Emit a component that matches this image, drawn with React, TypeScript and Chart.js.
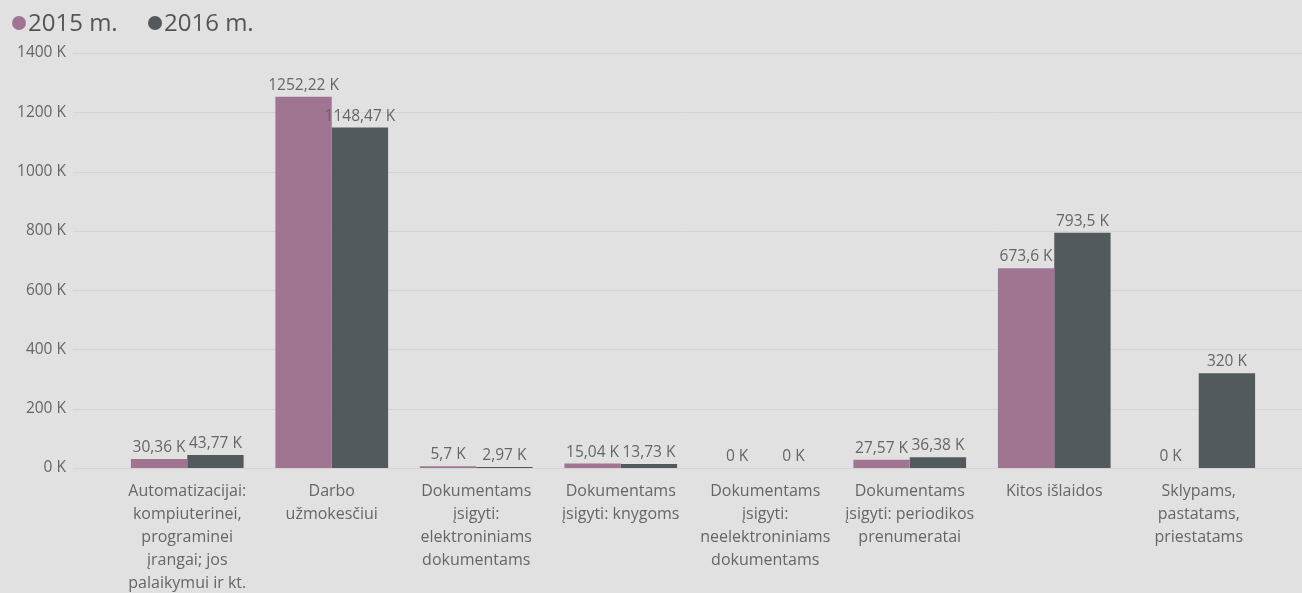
import React, { useEffect, useRef } from "react";
import { Chart, registerables } from "chart.js";

Chart.register(...registerables);

const categories: string[][] = [
  ["Automatizacijai:", "kompiuterinei,", "programinei", "įrangai; jos", "palaikymui ir kt."],
  ["Darbo", "užmokesčiui"],
  ["Dokumentams", "įsigyti:", "elektroniniams", "dokumentams"],
  ["Dokumentams", "įsigyti: knygoms"],
  ["Dokumentams", "įsigyti:", "neelektroniniams", "dokumentams"],
  ["Dokumentams", "įsigyti: periodikos", "prenumeratai"],
  ["Kitos išlaidos"],
  ["Sklypams,", "pastatams,", "priestatams"],
];
const series2015: number[] = [30.36, 1252.22, 5.7, 15.04, 0, 27.57, 673.6, 0];
const series2016: number[] = [43.77, 1148.47, 2.97, 13.73, 0, 36.38, 793.5, 320];
const seriesNames: string[] = ["2015 m.", "2016 m."];
const seriesColors: string[] = ["#A07592", "#525A5D"];
const yTicks: number[] = [0, 200, 400, 600, 800, 1000, 1200, 1400];

const FONT = "'Open Sans', 'Noto Sans', sans-serif";
const BG = "#E1E1E1";

const fmt = (v: number) => String(v).replace(".", ",") + " K";

const bgPlugin = {
  id: "bgAndGrid",
  beforeDraw(chart: any) {
    const { ctx, width, height } = chart;
    ctx.save();
    ctx.fillStyle = BG;
    ctx.fillRect(0, 0, width, height);
    const y = chart.scales.y;
    ctx.strokeStyle = "#D4D4D4";
    ctx.lineWidth = 1;
    yTicks.forEach((t) => {
      const py = Math.round(y.getPixelForValue(t)) + 0.5;
      ctx.beginPath();
      ctx.moveTo(73, py);
      ctx.lineTo(width, py);
      ctx.stroke();
    });
    ctx.restore();
  },
};

const labelPlugin = {
  id: "valueLabels",
  afterDatasetsDraw(chart: any) {
    const { ctx } = chart;
    ctx.save();
    ctx.font = `15.5px ${FONT}`;
    ctx.fillStyle = "#666666";
    ctx.textAlign = "center";
    ctx.textBaseline = "alphabetic";
    chart.data.datasets.forEach((ds: any, i: number) => {
      const meta = chart.getDatasetMeta(i);
      meta.data.forEach((bar: any, j: number) => {
        const v = ds.data[j];
        ctx.fillText(fmt(v), bar.x, bar.y - 7);
      });
    });
    ctx.restore();
  },
};

const legendPlugin = {
  id: "customLegend",
  afterDraw(chart: any) {
    const { ctx } = chart;
    ctx.save();
    ctx.font = `24px ${FONT}`;
    ctx.textBaseline = "middle";
    ctx.textAlign = "left";
    let x = 19;
    seriesNames.forEach((name, i) => {
      ctx.fillStyle = seriesColors[i];
      ctx.beginPath();
      ctx.arc(x, 23, 7, 0, Math.PI * 2);
      ctx.fill();
      ctx.fillStyle = "#555555";
      ctx.fillText(name, x + 9, 24);
      x += 136;
    });
    ctx.restore();
  },
};

export default function App() {
  const ref = useRef<HTMLCanvasElement | null>(null);
  useEffect(() => {
    document.body.style.margin = "0";
    document.body.style.background = BG;
    const chart = new Chart(ref.current as HTMLCanvasElement, {
      type: "bar",
      data: {
        labels: categories,
        datasets: [
          { label: seriesNames[0], data: series2015, backgroundColor: seriesColors[0], categoryPercentage: 0.78, barPercentage: 1 },
          { label: seriesNames[1], data: series2016, backgroundColor: seriesColors[1], categoryPercentage: 0.78, barPercentage: 1 },
        ],
      },
      options: {
        animation: false,
        responsive: false,
        maintainAspectRatio: false,
        layout: { padding: { top: 53, right: 31, left: 0, bottom: 0 } },
        plugins: { legend: { display: false }, tooltip: { enabled: false } },
        scales: {
          x: {
            grid: { display: false, drawTicks: false },
            border: { display: false },
            ticks: {
              autoSkip: false,
              maxRotation: 0,
              minRotation: 0,
              padding: 12,
              color: "#666666",
              font: { family: FONT, size: 16, lineHeight: 1.44 },
            },
            afterFit: (s: any) => { s.height = 125; },
          },
          y: {
            min: 0,
            max: 1400,
            afterBuildTicks: (s: any) => { s.ticks = yTicks.map((v) => ({ value: v })); },
            grid: { display: false, drawTicks: false },
            border: { display: false },
            ticks: {
              padding: 49,
              color: "#666666",
              font: { family: FONT, size: 15.5, lineHeight: 0.4 },
              callback: (v: any) => `${v} K`,
            },
            afterFit: (s: any) => { s.width = 115; },
          },
        },
      },
      plugins: [bgPlugin, labelPlugin, legendPlugin],
    });
    return () => chart.destroy();
  }, []);
  return <canvas ref={ref} width={1302} height={593} style={{ display: "block" }} />;
}
